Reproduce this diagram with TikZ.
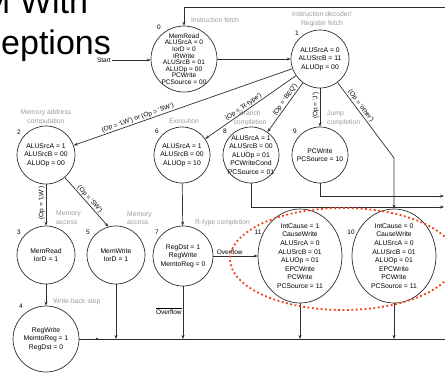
\documentclass[tikz,border=0pt]{standalone}
\usepackage{fontspec}
\setmainfont{Liberation Sans}
\usetikzlibrary{arrows.meta,calc,shapes.geometric}
\definecolor{lc}{RGB}{45,45,45}
\definecolor{gl}{RGB}{155,155,155}
\definecolor{rd}{RGB}{245,60,20}
\begin{document}
\begin{tikzpicture}[x=1pt,y=-1pt,
 st/.style={circle,draw=lc,line width=0.7pt,inner sep=0pt,align=center,font=\fontsize{6.8}{8.6}\selectfont,minimum size=58pt},
 ex/.style={ellipse,draw=lc,line width=0.7pt,inner sep=0pt,align=center,font=\fontsize{6.8}{8.6}\selectfont,minimum width=84pt,minimum height=94pt},
 gry/.style={text=gl,font=\fontsize{6.8}{8.6}\selectfont,align=center,inner sep=0pt},
 num/.style={font=\fontsize{6.5}{7}\selectfont,inner sep=0pt},
 lab/.style={font=\fontsize{6.5}{7}\selectfont,inner sep=1pt},
 arr/.style={draw=lc,line width=0.7pt,-{Stealth[length=4pt,width=3pt]}},
 plain/.style={draw=lc,line width=0.7pt},
 ttl/.style={anchor=base west,inner sep=0pt,font=\fontsize{34}{40}\selectfont}]
\useasboundingbox (0,0) rectangle (445,373);
\clip (0,0) rectangle (445,373);

% title
\node[ttl] (t1) at (-18,13) {M With};
\node[ttl] (t2) at (1,54) {eptions};

% states
\node[st,minimum size=66pt,inner sep=-2pt,font=\fontsize{6.6}{6.6}\selectfont] (s0) at (184,59) {MemRead\\ALUSrcA = 0\\IorD = 0\\IRWrite\\ALUSrcB = 01\\ALUOp = 00\\PCWrite\\PCSource = 00};
\node[st] (s1) at (320,59) {ALUSrcA = 0\\ALUSrcB = 11\\ALUOp = 00};
\node[st] (s2) at (46,155) {ALUSrcA = 1\\ALUSrcB = 00\\ALUOp = 00};
\node[st,minimum size=56pt] (s6) at (182,155) {ALUSrcA = 1\\ALUSrcB = 00\\ALUOp = 10};
\node[st,minimum size=56pt,inner sep=-4pt] (s8) at (251,155) {ALUSrcA = 1\\ALUSrcB = 00\\ALUOp = 01\\PCWriteCond\\PCSource = 01};
\node[st,minimum size=56pt] (s9) at (320,155) {PCWrite\\PCSource = 10};
\node[st] (s3) at (46,255) {MemRead\\IorD = 1};
\node[st] (s5) at (116,255) {MemWrite\\IorD = 1};
\node[st,minimum size=60pt] (s7) at (183,256) {RegDst = 1\\RegWrite\\MemtoReg = 0};
\node[st,minimum size=66pt] (s4) at (46,339) {RegWrite\\MemtoReg = 1\\RegDst = 0};
\node[ex] (s11) at (300,256) {IntCause = 1\\CauseWrite\\ALUSrcA = 0\\ALUSrcB = 01\\ALUOp = 01\\EPCWrite\\PCWrite\\PCSource = 11};
\node[ex] (s10) at (394,256) {IntCause = 0\\CauseWrite\\ALUSrcA = 0\\ALUSrcB = 01\\ALUOp = 01\\EPCWrite\\PCWrite\\PCSource = 11};

% state numbers
\node[num] (n0) at (159,27) {0};
\node[num] (n1) at (297,33) {1};
\node[num] (n2) at (19,132) {2};
\node[num] (n6) at (157,131) {6};
\node[num] (n8) at (225,131) {8};
\node[num] (n9) at (295,131) {9};
\node[num] (n3) at (19,232) {3};
\node[num] (n5) at (88,232) {5};
\node[num] (n7) at (157,232) {7};
\node[num] (n4) at (21,306) {4};
\node[num] (n11) at (258,232) {11};
\node[num] (n10) at (351,232) {10};

% gray labels
\node[gry] (l0) at (215,20) {Instruction fetch};
\node[gry] (l1) at (322,19.5) {Instruction decoder/\\Register fetch};
\node[gry] (l2) at (46,117.5) {Memory address\\computation};
\node[gry] (l6) at (184,121) {Execution};
\node[gry] (l8) at (250,118) {Branch\\completion};
\node[gry,align=left,anchor=west] (l9) at (327,118.5) {Jump\\completion};
\node[gry,align=left,anchor=west] (l3) at (56,217.5) {Memory\\access};
\node[gry,align=left,anchor=west] (l5) at (127,218) {Memory\\access};
\node[gry,anchor=west] (l7) at (195,223) {R-type completion};
\node[gry,anchor=west] (l4) at (53,302) {Write-back step};

% start
\node[lab,anchor=east] (start) at (112,60) {Start};
\draw[arr] (start.east) -- (s0.west |- start.east);
\draw[arr] (s0) -- (s1);

% loop back along the top
\coordinate (tr) at (447,7);
\draw[arr] (tr) -| (s0.north);

% edges from state 1
\draw[arr] (s1) -- node[lab,sloped,above,pos=0.7]{(Op = `LW') or (Op = `SW')} (s2);
\draw[arr] (s1) -- node[lab,sloped,above,pos=0.55]{(Op = `R-type')} (s6);
\draw[arr] (s1) -- node[lab,sloped,above,pos=0.4]{(Op = `BEQ')} (s8);
\draw[arr] (s1) -- node[lab,rotate=90,anchor=south,pos=0.45]{(Op = `J')} (s9);
\coordinate (k) at (394,158);
\draw[arr] (s1) -- node[lab,sloped,above,pos=0.35]{(Op = `other')} (k) -- (s10);

% edges from state 2
\draw[arr] (s2) -- node[lab,rotate=90,anchor=south,pos=0.45]{(Op = `LW')} (s3);
\draw[arr] (s2.-50) -- node[lab,sloped,above,pos=0.5]{(Op = `SW')} (s5.105);

\draw[arr] (s3) -- (s4);
\draw[arr] (s6) -- (s7);
\draw[arr] (s7) -- node[lab,anchor=south west,pos=0.05]{Overflow} (s11);

% bottom bus
\coordinate (bR) at (447,339);
\draw[plain] (s4.east) -- (bR);
\coordinate (dt) at (97,339);
\fill[lc] (dt) circle (1.3);
\draw[arr] (s5) -- (s5 |- bR);
\draw[arr] (s7) -- node[lab,anchor=east,pos=0.47]{$\overline{\mbox{Overflow}}$} (s7 |- bR);
\draw[arr] (s11) -- (s11 |- bR);
\draw[arr] (s10) -- (s10 |- bR);

% right-going lines
\coordinate (r9) at (444,196);
\coordinate (r8) at (444,207);
\draw[arr] (s9) |- (r9);
\draw[arr] (s8) |- (r8);

% red dotted highlight
\draw[rd,line width=1.8pt,dash pattern=on 1.8pt off 2.6pt] (343,259) ellipse [x radius=113, y radius=51];
\end{tikzpicture}
\end{document}
